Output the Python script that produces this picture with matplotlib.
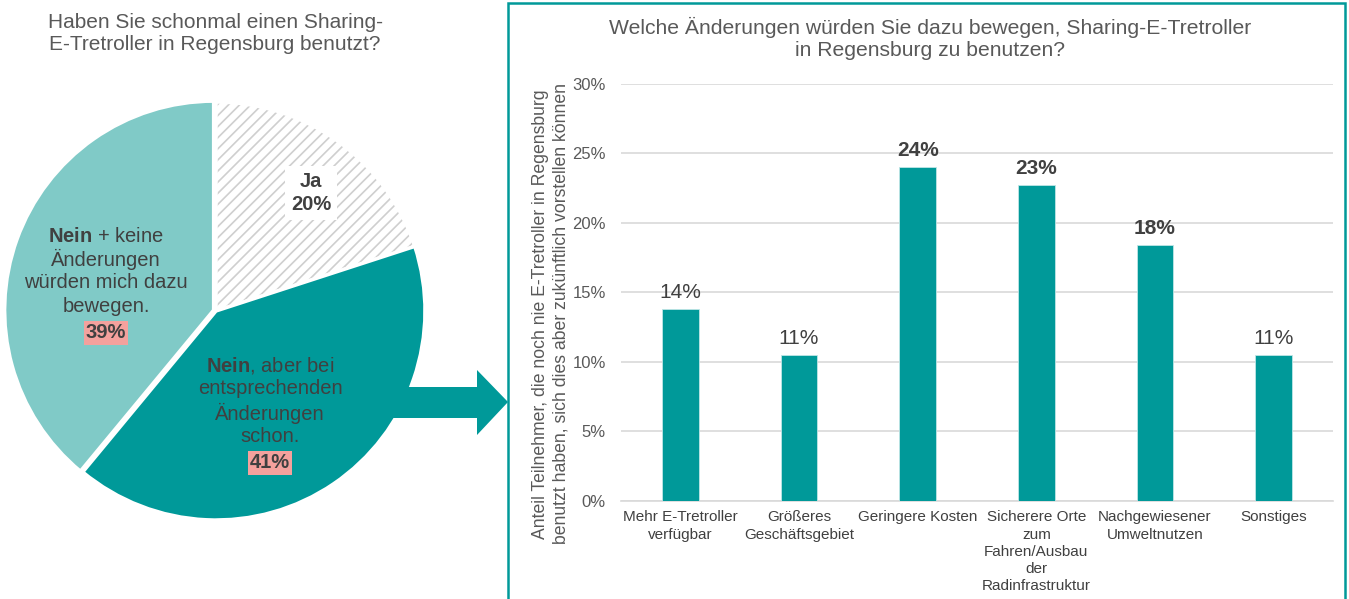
import matplotlib
matplotlib.use("Agg")
import matplotlib.pyplot as plt
from matplotlib.patches import Wedge, Polygon, Rectangle
import numpy as np

# ---------------- data ----------------
pie_title = "Haben Sie schonmal einen Sharing-\nE-Tretroller in Regensburg benutzt?"
pie_labels = ["Ja", "Nein, aber bei entsprechenden Änderungen schon.",
              "Nein + keine Änderungen würden mich dazu bewegen."]
pie_values = [20, 41, 39]

bar_title = "Welche Änderungen würden Sie dazu bewegen, Sharing-E-Tretroller\nin Regensburg zu benutzen?"
bar_categories = ["Mehr E-Tretroller\nverfügbar", "Größeres\nGeschäftsgebiet", "Geringere Kosten",
                  "Sicherere Orte\nzum\nFahren/Ausbau\nder\nRadinfrastruktur",
                  "Nachgewiesener\nUmweltnutzen", "Sonstiges"]
bar_values = [13.8, 10.5, 24.0, 22.7, 18.4, 10.5]
bar_labels = ["14%", "11%", "24%", "23%", "18%", "11%"]
y_ticks = [0, 5, 10, 15, 20, 25, 30]
y_ticklabels = ["0%", "5%", "10%", "15%", "20%", "25%", "30%"]
y_label = ("Anteil Teilnehmer, die noch nie E-Tretroller in Regensburg\n"
           "benutzt haben, sich dies aber zukünftlich vorstellen können")

# ---------------- style ----------------
TEAL = "#009999"
LIGHT = "#80CAC7"
TXT = "#404040"
GRAY = "#595959"
PINK = "#F4A19D"
bold_bars = [2, 3, 4]

plt.rcParams["font.family"] = ["Liberation Sans", "DejaVu Sans"]
plt.rcParams["mathtext.fontset"] = "custom"
plt.rcParams["mathtext.rm"] = "Liberation Sans"
plt.rcParams["mathtext.bf"] = "Liberation Sans:bold"
plt.rcParams["mathtext.it"] = "Liberation Sans:italic"
plt.rcParams["hatch.linewidth"] = 1.2

W, H = 1349, 599
fig = plt.figure(figsize=(W / 100, H / 100), dpi=100)
fig.patch.set_facecolor("white")


def fx(px):
    return px / W


def fy(py):
    return 1 - py / H


# ---------------- pie ----------------
cx, cy, R = 216, 311, 209
axp = fig.add_axes([fx(cx - R), fy(cy + R), 2 * R / W, 2 * R / H])
axp.patch.set_alpha(0)

wedges, _ = axp.pie(pie_values, colors=["none", TEAL, LIGHT], startangle=90, counterclock=False,
                    radius=1, explode=[0, 0, 0.012],
                    wedgeprops=dict(edgecolor="white", linewidth=2.5))
axp.set_xlim(-1, 1)
axp.set_ylim(-1, 1)
axp.axis("off")
w0 = wedges[0]
hatch = Wedge(w0.center, w0.r, w0.theta1, w0.theta2, facecolor="white", edgecolor="#CFCFCF",
              linewidth=0, hatch="///", zorder=0.5)
axp.add_patch(hatch)

# ---------------- arrow (on top of pie edge) ----------------
arrow_pts = [(398, 387), (477, 387), (477, 370), (508, 402), (477, 435), (477, 418), (390, 418)]
fig.patches.append(Polygon([(fx(x), fy(y)) for x, y in arrow_pts], closed=True,
                           transform=fig.transFigure, facecolor=TEAL, edgecolor="none", zorder=2))


def d(px, py):
    return ((px - cx) / R, (cy - py) / R)


fs = 14.5
axp.text(*d(311, 193), "Ja\n20%", ha="center", va="center", fontsize=fs, fontweight="bold",
         color=TXT, linespacing=1.25,
         bbox=dict(boxstyle="square,pad=0.3", facecolor="white", edgecolor="none"))

light_lines = [r"$\bf{Nein}$ + keine", "Änderungen", "würden mich dazu", "bewegen."]
for i, t in enumerate(light_lines):
    axp.text(*d(106, 236 + i * 23.5), t, ha="center", va="center", fontsize=fs, color=TXT)
axp.text(*d(106, 333), "39%", ha="center", va="center", fontsize=fs, fontweight="bold", color=TXT,
         bbox=dict(boxstyle="square,pad=0.1", facecolor=PINK, edgecolor="none"))

dark_lines = [r"$\bf{Nein}$, aber bei", "entsprechenden", "Änderungen", "schon."]
for i, t in enumerate(dark_lines):
    axp.text(*d(270, 365 + i * 24), t, ha="center", va="center", fontsize=fs, color=TXT)
axp.text(*d(270, 463), "41%", ha="center", va="center", fontsize=fs, fontweight="bold", color=TXT,
         bbox=dict(boxstyle="square,pad=0.1", facecolor=PINK, edgecolor="none"))

fig.text(fx(215), fy(33), pie_title, ha="center", va="center", fontsize=15, color=GRAY,
         linespacing=1.2)

# ---------------- frame ----------------
fig.patches.append(Rectangle((fx(508), fy(640)), fx(1345) - fx(508), fy(3) - fy(640),
                             transform=fig.transFigure, facecolor="none", edgecolor=TEAL,
                             linewidth=1.8, zorder=2))

# ---------------- bar chart ----------------
x0, x1 = 621, 1333
yb, yt = 500.7, 83.5
axb = fig.add_axes([fx(x0), fy(yb), (x1 - x0) / W, (yb - yt) / H])
x = np.arange(len(bar_values))
axb.bar(x, bar_values, width=0.31, color=TEAL, edgecolor="#BFE6E6", linewidth=0.6, zorder=3)
axb.set_xlim(-0.5, len(bar_values) - 0.5)
axb.set_ylim(0, 30)
axb.set_yticks(y_ticks)
axb.set_yticklabels(y_ticklabels, fontsize=12, color=GRAY)
axb.set_xticks(x)
axb.set_xticklabels(bar_categories, fontsize=11, color=TXT, linespacing=1.28)
axb.tick_params(axis="both", length=0)
axb.tick_params(axis="y", pad=11)
axb.tick_params(axis="x", pad=7)
axb.grid(axis="y", color="#D9D9D9", linewidth=1.2, zorder=0)
for s in ["top", "right", "left"]:
    axb.spines[s].set_visible(False)
axb.spines["bottom"].set_color("#D9D9D9")
axb.spines["bottom"].set_linewidth(1.2)
for i, (v, lab) in enumerate(zip(bar_values, bar_labels)):
    axb.annotate(lab, (x[i], v), xytext=(0, 5), textcoords="offset points", ha="center",
                 va="bottom", fontsize=15, color=TXT,
                 fontweight="bold" if i in bold_bars else "normal")

fig.text(fx(930), fy(38.5), bar_title, ha="center", va="center", fontsize=15.2, color=GRAY,
         linespacing=1.25)
fig.text(fx(551), fy(314), y_label, ha="center", va="center", rotation=90, fontsize=12.7,
         color=GRAY, linespacing=1.25)

fig.savefig("out.png", dpi=100, facecolor="white")
